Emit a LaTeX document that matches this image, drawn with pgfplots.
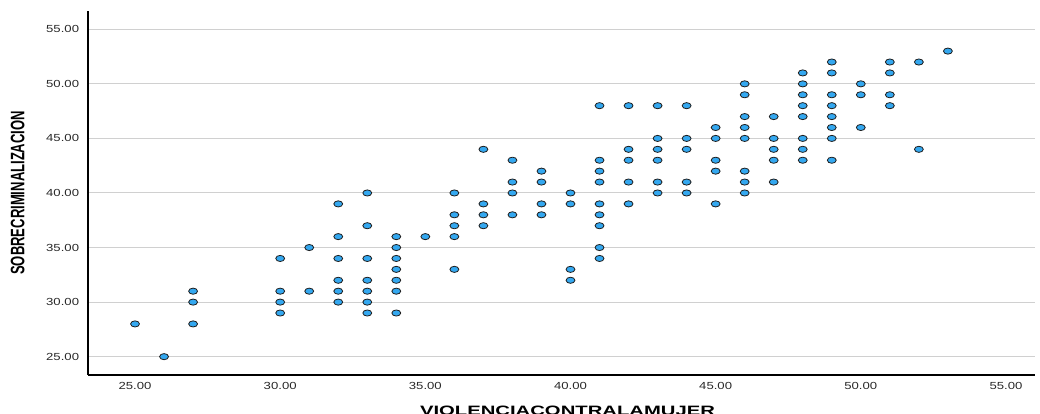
\documentclass[border=0pt]{standalone}
\usepackage{pgfplots}
\pgfplotsset{compat=1.18}
\usepackage{pgfplotstable}
\usepackage{fontspec}
\setmainfont{Liberation Sans}
\newfontfamily\tickfont[FakeStretch=1.28]{Liberation Sans}
\newfontfamily\ylabfont[FakeStretch=0.67]{Liberation Sans}
\newfontfamily\xlabfont[FakeStretch=1.49]{Liberation Sans}
\definecolor{markfill}{RGB}{52,168,240}
\definecolor{markdraw}{RGB}{30,30,30}
\definecolor{gridc}{RGB}{208,208,208}
\definecolor{tickc}{RGB}{40,40,40}
\pgfplotstableread{
x y
25 28
26 25
27 31
27 30
27 28
30 34
30 31
30 30
30 29
31 35
31 31
32 39
32 36
32 34
32 32
32 31
32 30
33 40
33 37
33 34
33 32
33 31
33 30
33 29
34 36
34 35
34 34
34 33
34 32
34 31
34 29
35 36
36 40
36 38
36 37
36 36
36 33
37 44
37 39
37 38
37 37
38 43
38 41
38 40
38 38
39 42
39 41
39 39
39 38
40 40
40 39
40 33
40 32
41 48
41 43
41 42
41 41
41 39
41 38
41 37
41 35
41 34
42 48
42 44
42 43
42 41
42 39
43 48
43 45
43 44
43 43
43 41
43 40
44 48
44 45
44 44
44 41
44 40
45 46
45 45
45 43
45 42
45 39
46 50
46 49
46 47
46 46
46 45
46 42
46 41
46 40
47 47
47 45
47 44
47 43
47 41
48 51
48 50
48 49
48 48
48 47
48 45
48 44
48 43
49 52
49 51
49 49
49 48
49 47
49 46
49 45
49 43
50 50
50 49
50 46
51 52
51 51
51 49
51 48
52 52
52 44
53 53
}\datatable
\begin{document}
\begin{tikzpicture}
\path[use as bounding box] (0,0) rectangle (780pt,310.5pt);
\begin{axis}[
  at={(66pt,29.25pt)}, anchor=south west,
  scale only axis, width=710.25pt, height=273.2pt,
  xmin=23.38, xmax=56.0, ymin=23.32, ymax=56.7,
  axis x line=bottom, axis y line=left,
  axis line style={-, black, line width=0.8pt},
  xtick={25,30,...,55}, ytick={25,30,...,55},
  major tick length=0pt,
  ymajorgrids, grid style={gridc, line width=0.75pt},
  /pgf/number format/fixed, /pgf/number format/fixed zerofill,
  /pgf/number format/precision=2, /pgf/number format/assume math mode=true,
  tick label style={font=\tickfont\fontsize{7.7}{8}\selectfont, text=tickc},
  xticklabel style={anchor=north, inner sep=0pt, yshift=-5pt},
  yticklabel style={anchor=east, inner sep=0pt, xshift=-6.5pt},
  xlabel={\xlabfont\bfseries VIOLENCIACONTRALAMUJER},
  xlabel style={at={(axis description cs:0.5,0)}, anchor=north, inner sep=0pt,
    yshift=-23.25pt, xshift=4.5pt, font=\fontsize{10.2}{11}\selectfont},
  ylabel={\ylabfont\bfseries SOBRECRIMINALIZACION},
  ylabel style={at={(axis description cs:0,0.5)}, anchor=center, inner sep=0pt,
    yshift=52.7pt, font=\fontsize{14.6}{16}\selectfont},
]
\addplot[only marks, mark=*, mark size=2.3pt,
  mark options={xscale=1.45, fill=markfill, draw=markdraw, line width=0.6pt}]
  table[x=x, y=y] {\datatable};
\end{axis}
\end{tikzpicture}
\end{document}
